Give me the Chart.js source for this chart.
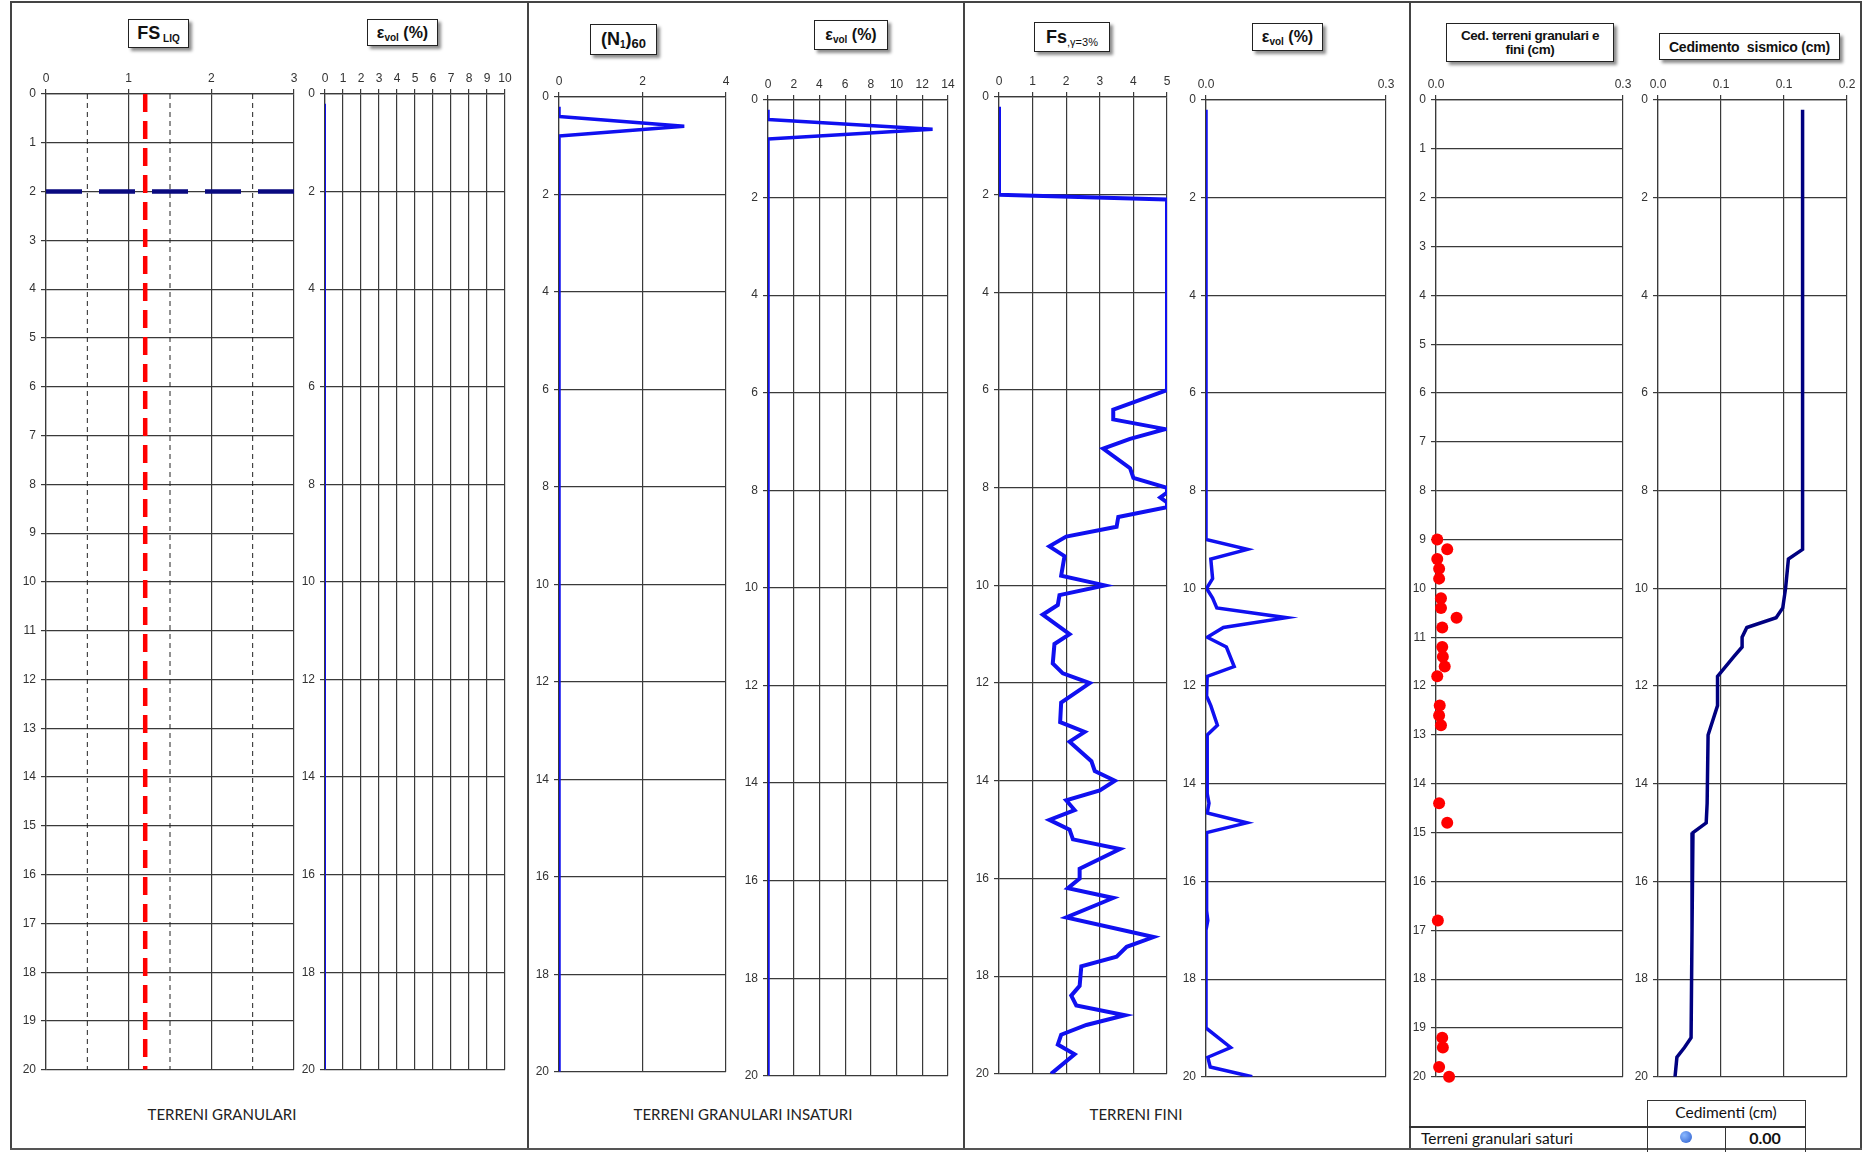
<!DOCTYPE html>
<html>
<head>
<meta charset="utf-8">
<script src="https://cdn.jsdelivr.net/npm/chart.js@4.4.0/dist/chart.umd.min.js"></script>
<style>
  body { margin: 0; width: 1865px; height: 1152px; background: #fff; position: relative; overflow: hidden; font-family: "Liberation Sans", Arial, sans-serif; }
  canvas { position: absolute; }
  .linea { position: absolute; background: #444; }
  .titolo { position: absolute; border: 1px solid #222; background: #fff; box-shadow: 3px 3px 3px rgba(0,0,0,0.45);
            font-weight: bold; color: #111; display: flex; align-items: center; justify-content: center; text-align: center; box-sizing: border-box; }
  .titolo sub { font-size: 10px; vertical-align: -3px; line-height: 0; }
  .sezione { position: absolute; transform: translate(-50%, -50%); font-family: Lato, "Open Sans", sans-serif; font-size: 15px; color: #222; white-space: nowrap; }
  .tab { position: absolute; font-family: Lato, "Open Sans", sans-serif; color: #111; }
</style>
</head>
<body>

<!-- cornice -->
<div class="linea" style="left:10px;top:1px;width:1852px;height:1.5px"></div>
<div class="linea" style="left:10px;top:1px;width:1.5px;height:1149px"></div>
<div class="linea" style="left:527px;top:1px;width:1.5px;height:1149px"></div>
<div class="linea" style="left:963px;top:1px;width:1.5px;height:1149px"></div>
<div class="linea" style="left:1409px;top:1px;width:1.5px;height:1149px"></div>
<div class="linea" style="left:1860px;top:1px;width:1.5px;height:1149px"></div>
<div class="linea" style="left:10px;top:1148px;width:1852px;height:2px;background:#555"></div>

<!-- titoli -->
<div class="titolo" style="left:128px;top:19px;width:61px;height:29px;font-size:18px"><span>FS<sub>&nbsp;LIQ</sub></span></div>
<div class="titolo" style="left:367px;top:19px;width:71px;height:27px;font-size:16px"><span>ε<sub>vol</sub>&nbsp;(%)</span></div>
<div class="titolo" style="left:590px;top:24px;width:67px;height:31px;font-size:18px"><span>(N<sub>1</sub>)<sub style="font-size:13px">60</sub></span></div>
<div class="titolo" style="left:814px;top:20px;width:74px;height:30px;font-size:16px"><span>ε<sub>vol</sub>&nbsp;(%)</span></div>
<div class="titolo" style="left:1034px;top:22px;width:76px;height:30px;font-size:18px"><span>Fs<sub style="font-weight:normal;font-size:11px">,γ=3%</sub></span></div>
<div class="titolo" style="left:1252px;top:23px;width:71px;height:28px;font-size:16px"><span>ε<sub>vol</sub>&nbsp;(%)</span></div>
<div class="titolo" style="left:1446px;top:23px;width:168px;height:39px;font-size:13.5px;line-height:14px;letter-spacing:-0.4px"><span>Ced. terreni granulari e<br>fini (cm)</span></div>
<div class="titolo" style="left:1659px;top:33px;width:181px;height:27px;font-size:14px;letter-spacing:-0.2px"><span>Cedimento&nbsp; sismico (cm)</span></div>

<!-- didascalie -->
<div class="sezione" style="left:222px;top:1114px">TERRENI GRANULARI</div>
<div class="sezione" style="left:743px;top:1114px">TERRENI GRANULARI INSATURI</div>
<div class="sezione" style="left:1136px;top:1114px">TERRENI FINI</div>

<!-- tabella cedimenti -->
<div class="linea" style="left:1647px;top:1100px;width:158px;height:1px;background:#333"></div>
<div class="linea" style="left:1647px;top:1100px;width:1px;height:52px;background:#333"></div>
<div class="linea" style="left:1805px;top:1100px;width:1px;height:52px;background:#333"></div>
<div class="linea" style="left:1409px;top:1126px;width:396px;height:1.5px;background:#333"></div>
<div class="linea" style="left:1725px;top:1126px;width:1px;height:26px;background:#333"></div>
<div class="tab" style="left:1647px;top:1103px;width:158px;text-align:center;font-size:15.5px">Cedimenti (cm)</div>
<div class="tab" style="left:1421px;top:1129px;font-size:15.5px">Terreni granulari saturi</div>
<div class="tab" style="left:1680px;top:1131px;width:12px;height:12px;border-radius:50%;background:radial-gradient(circle at 35% 35%, #8ab8ff, #2a5ccc)"></div>
<div class="tab" style="left:1725px;top:1128px;width:80px;text-align:center;font-size:16px;font-weight:bold">0.00</div>

<script>
// Tick degli assi
const profTicks1 = [0, 1, 2, 3, 4, 5, 6, 7, 8, 9, 10, 11, 12, 13, 14, 15, 16, 17, 18, 19, 20];
const profTicks2 = [0, 2, 4, 6, 8, 10, 12, 14, 16, 18, 20];
const xTicksFsLiq = [0, 1, 2, 3];
const xTicksEvolSat = [0, 1, 2, 3, 4, 5, 6, 7, 8, 9, 10];
const xTicksN160 = [0, 2, 4];
const xTicksEvolIns = [0, 2, 4, 6, 8, 10, 12, 14];
const xTicksFs = [0, 1, 2, 3, 4, 5];
const xTicksEvolFini = [0, 0.3];
const xTicksCed = [0, 0.3];
const xTicksCedSism = [0, 0.0667, 0.1333, 0.2];

// Terreni granulari
const fsLimite = 1.2;
const profFalda = 2;
const guideFsLiq = [0.5, 1.5, 2.5];
const evolSatProf = [0.2, 20];
const evolSatVal = [0, 0];

// Terreni granulari insaturi
const n160Prof = [0.2, 0.4, 0.6, 0.8, 20];
const n160Val = [0, 0, 3.0, 0, 0];
const evolInsProf = [0.2, 0.4, 0.6, 0.8, 20];
const evolInsVal = [0, 0, 12.8, 0, 0];

// Terreni fini
const fsProf = [0.2, 2.0, 2.1, 6.0, 6.4, 6.6, 6.8, 7.0, 7.2, 7.6, 7.8, 8.0, 8.1, 8.2, 8.3, 8.4, 8.6, 8.8, 9.0, 9.2, 9.4, 9.8, 10.0,
  10.2, 10.4, 10.6, 11.0, 11.2, 11.6, 11.8, 12.0, 12.4, 12.8, 13.0, 13.2, 13.6, 13.8, 14.0, 14.2, 14.4, 14.6, 14.8, 15.0, 15.2,
  15.4, 15.8, 16.0, 16.2, 16.4, 16.8, 17.2, 17.4, 17.6, 17.8, 18.2, 18.4, 18.6, 18.8, 19.0, 19.2, 19.4, 19.6, 20.0];
const fsVal = [0, 0, 5, 5, 3.4, 3.4, 4.95, 3.9, 3.1, 3.9, 4.0, 5.0, 5.0, 4.8, 5.0, 5.0, 3.55, 3.5, 2.0, 1.5, 1.95, 1.85, 3.15,
  1.8, 1.75, 1.3, 2.1, 1.65, 1.6, 1.9, 2.7, 1.85, 1.82, 2.55, 2.1, 2.75, 2.85, 3.45, 3.0, 2.0, 2.25, 1.5, 2.1, 2.2,
  3.6, 2.4, 2.4, 2.05, 3.4, 2.0, 4.6, 3.8, 3.5, 2.45, 2.4, 2.15, 2.3, 3.75, 2.6, 1.85, 1.75, 2.25, 1.55];
const evolFiniProf = [0.2, 9.0, 9.2, 9.4, 9.8, 10.0, 10.2, 10.4, 10.6, 10.8, 11.0, 11.2, 11.6, 11.8, 12.2, 12.4, 12.8, 13.0,
  14.2, 14.4, 14.6, 14.8, 15.0, 16.6, 16.8, 17.0, 19.0, 19.4, 19.6, 19.8, 20.0];
const evolFiniVal = [0, 0, 0.069, 0.008, 0.011, 0.001, 0.011, 0.018, 0.134, 0.029, 0.002, 0.034, 0.047, 0.002, 0.001, 0.008, 0.019, 0.002,
  0.002, 0.005, 0.002, 0.068, 0.001, 0.001, 0.003, 0, 0, 0.041, 0.003, 0.007, 0.077];

// Cedimenti
const cedProf = [9.0, 9.2, 9.4, 9.6, 9.8, 10.2, 10.4, 10.6, 10.8, 11.2, 11.4, 11.6, 11.8, 12.4, 12.6, 12.8, 14.4, 14.8, 16.8,
  19.2, 19.4, 19.8, 20.0];
const cedVal = [0.002, 0.018, 0.002, 0.005, 0.005, 0.008, 0.008, 0.033, 0.010, 0.010, 0.011, 0.014, 0.002, 0.006, 0.005, 0.008,
  0.005, 0.018, 0.003, 0.010, 0.011, 0.005, 0.021];
const cedSismProf = [0.2, 9.2, 9.4, 10.0, 10.4, 10.6, 10.8, 11.0, 11.2, 11.4, 11.8, 12.4, 13.0, 14.4, 14.8, 15.0, 17.0, 19.2, 19.4, 19.6, 20.0];
const cedSismVal = [0.153, 0.153, 0.138, 0.135, 0.132, 0.125, 0.094, 0.089, 0.089, 0.080, 0.063, 0.063, 0.053, 0.052, 0.051, 0.037,
  0.036, 0.035, 0.028, 0.020, 0.018];

const BLU = "#1010f0";
const fontTick = { family: "'Liberation Sans', Arial, sans-serif", size: 12 };

function punti(xs, ys) {
  return xs.map((x, i) => ({ x: x, y: ys[i] }));
}

function linea(dati, colore, spessore, tratteggio) {
  return {
    data: dati, showLine: true, pointRadius: 0, borderColor: colore, borderWidth: spessore,
    borderDash: tratteggio || [], fill: false, tension: 0
  };
}

const int = v => String(Math.round(v));
const dec1 = v => v.toFixed(1);

function pannello(p) {
  const YW = 34, XH = 30, PR = 16, PB = 10;
  const w = p.r - p.l + YW + PR;
  const h = p.b - p.t + XH + PB;
  const c = document.createElement("canvas");
  c.width = w; c.height = h;
  c.style.left = (p.l - YW) + "px";
  c.style.top = (p.t - XH) + "px";
  c.style.width = w + "px";
  c.style.height = h + "px";
  document.body.appendChild(c);

  new Chart(c, {
    type: "scatter",
    data: { datasets: p.datasets },
    options: {
      responsive: false,
      animation: false,
      devicePixelRatio: 1,
      layout: { padding: { top: 0, left: 0, right: PR, bottom: PB } },
      plugins: { legend: { display: false }, tooltip: { enabled: false } },
      scales: {
        x: {
          type: "linear", position: "top", min: p.xTicks[0], max: p.xTicks[p.xTicks.length - 1],
          afterBuildTicks: s => { s.ticks = p.xTicks.map(v => ({ value: v })); },
          afterFit: s => { s.height = XH; },
          ticks: { callback: p.xFmt, font: fontTick, color: "#333", padding: 3, maxRotation: 0, autoSkip: false },
          grid: { color: "#3a3a3a", lineWidth: 1.2, tickLength: 5 },
          border: { color: "#3a3a3a", width: 1.2 }
        },
        y: {
          type: "linear", reverse: true, min: 0, max: 20,
          afterBuildTicks: s => { s.ticks = p.yTicks.map(v => ({ value: v })); },
          afterFit: s => { s.width = YW; },
          ticks: { callback: int, font: fontTick, color: "#333", padding: 5, autoSkip: false },
          grid: { color: "#3a3a3a", lineWidth: 1.2, tickLength: 5 },
          border: { color: "#3a3a3a", width: 1.2 }
        }
      }
    }
  });
}

document.addEventListener("DOMContentLoaded", () => {
  // TERRENI GRANULARI
  const guide = guideFsLiq.map(g => linea([{ x: g, y: 0 }, { x: g, y: 20 }], "#222", 1, [5, 4]));
  pannello({
    l: 46, t: 94, r: 294, b: 1072, xTicks: xTicksFsLiq, yTicks: profTicks1, xFmt: int,
    datasets: [
      linea([{ x: fsLimite, y: 0 }, { x: fsLimite, y: 20 }], "#ff0000", 4.5, [18, 9]),
      linea([{ x: 0, y: profFalda }, { x: 3, y: profFalda }], "#0a0a80", 4.5, [36, 17])
    ].concat(guide)
  });
  pannello({
    l: 325, t: 94, r: 505, b: 1072, xTicks: xTicksEvolSat, yTicks: profTicks2, xFmt: int,
    datasets: [linea(punti(evolSatVal, evolSatProf), BLU, 2)]
  });

  // TERRENI GRANULARI INSATURI
  pannello({
    l: 559, t: 97, r: 726, b: 1074, xTicks: xTicksN160, yTicks: profTicks2, xFmt: int,
    datasets: [linea(punti(n160Val, n160Prof), BLU, 3.5)]
  });
  pannello({
    l: 768, t: 100, r: 948, b: 1078, xTicks: xTicksEvolIns, yTicks: profTicks2, xFmt: int,
    datasets: [linea(punti(evolInsVal, evolInsProf), BLU, 3.5)]
  });

  // TERRENI FINI
  pannello({
    l: 999, t: 97, r: 1167, b: 1076, xTicks: xTicksFs, yTicks: profTicks2, xFmt: int,
    datasets: [linea(punti(fsVal, fsProf), BLU, 4)]
  });
  pannello({
    l: 1206, t: 100, r: 1386, b: 1079, xTicks: xTicksEvolFini, yTicks: profTicks2, xFmt: dec1,
    datasets: [linea(punti(evolFiniVal, evolFiniProf), BLU, 3.5)]
  });

  // CEDIMENTI
  pannello({
    l: 1436, t: 100, r: 1623, b: 1079, xTicks: xTicksCed, yTicks: profTicks1, xFmt: dec1,
    datasets: [{
      data: punti(cedVal, cedProf), showLine: false, pointRadius: 6, pointBorderWidth: 0,
      backgroundColor: "#ff0000", borderColor: "#ff0000", clip: false
    }]
  });
  pannello({
    l: 1658, t: 100, r: 1847, b: 1079, xTicks: xTicksCedSism, yTicks: profTicks2, xFmt: dec1,
    datasets: [linea(punti(cedSismVal, cedSismProf), "#000080", 3.5)]
  });
});
</script>
</body>
</html>
